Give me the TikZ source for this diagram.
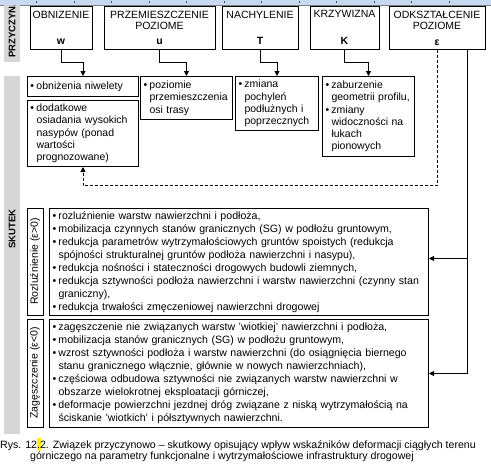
\documentclass[tikz,border=0pt]{standalone}
\usepackage{fontspec}
\setmainfont{Liberation Sans}
\usetikzlibrary{arrows.meta, positioning, calc}

\definecolor{bargrey}{HTML}{D6D6D6}
\definecolor{rulerblue}{HTML}{C6D9F0}

\newcommand{\bul}{\makebox[6pt][l]{\textbullet}}
\newcommand{\cont}{\hspace*{6pt}}

\begin{document}
\begin{tikzpicture}[
  x=1pt, y=-1pt,
  cause/.style={rectangle, draw, line width=1pt, inner sep=0pt},
  head/.style={font=\fontsize{10.5}{11}\selectfont, align=center, inner sep=0pt},
  sym/.style={font=\bfseries\fontsize{10.5}{11}\selectfont, inner sep=0pt},
  effect/.style={rectangle, draw, line width=1pt, anchor=north west, align=left,
    inner xsep=3pt, inner ysep=0pt, font=\fontsize{10.5}{12.3}\selectfont},
  effectwide/.style={effect, font=\fontsize{10.6}{13}\selectfont},
  sidebox/.style={rectangle, draw, line width=1pt, rotate=90, inner sep=0pt,
    minimum height=16, font=\fontsize{10.5}{12}\selectfont},
  bar/.style={rectangle, fill=bargrey, inner sep=0pt},
  arrow/.style={-{Triangle[length=5pt,width=5pt]}, line width=1pt}
]
\useasboundingbox (0,0) rectangle (491,469);

% ruler strip
\fill[rulerblue] (0,0) rectangle (491,5);
\draw[gray] (0,5) -- (491,5);
\foreach \t in {36,74,111,149,186,224,261,299,336,374,411,449}
  \draw[black!70] (\t,1) -- (\t,3);

% grey side bars
\node[bar, minimum width=16, minimum height=57, anchor=north west] (przbar) at (4,5) {};
\begin{scope}
  \clip (przbar.north west) rectangle (przbar.south east);
  \node[rotate=90, anchor=west, inner sep=0pt, font=\bfseries\fontsize{9.5}{10}\selectfont]
    (prz) at (12,58) {PRZYCZYNA};
\end{scope}
\node[bar, minimum width=16, minimum height=358, anchor=north west] (skbar) at (4,76) {};
\node[rotate=90, inner sep=0pt, font=\bfseries\fontsize{9.5}{10}\selectfont]
  (sk) at (12,229) {SKUTEK};

% causes
\node[cause, minimum width=62, minimum height=43] (w) at (61,27.5) {};
\node[cause, minimum width=111, minimum height=43] (u) at (159.5,27.5) {};
\node[cause, minimum width=76, minimum height=43] (T) at (260,27.5) {};
\node[cause, minimum width=69, minimum height=43] (K) at (344.5,27.5) {};
\node[cause, minimum width=96, minimum height=43] (eps) at (437,27.5) {};

\node[head, below=5pt of w.north] {OBNIZENIE};
\node[head, below=5pt of u.north] {PRZEMIESZCZENIE\\POZIOME};
\node[head, below=5pt of T.north] {NACHYLENIE};
\node[head, below=5pt of K.north] {KRZYWIZNA};
\node[head, below=5pt of eps.north] {ODKSZTAŁCENIE\\POZIOME};

\node[sym, above=5pt of w.south] {w};
\node[sym, above=5pt of u.south] {u};
\node[sym, above=5pt of T.south] {T};
\node[sym, above=5pt of K.south] {K};
\node[sym, above=4pt of eps.south] {ε};

% first effects
\node[effect, text width=105, minimum height=20] (a1) at (27,76)
  {\bul obniżenia niwelety};
\node[effect, text width=105, minimum height=66] (a2) at (27,100)
  {\bul dodatkowe\\\cont osiadania wysokich\\\cont nasypów (ponad\\\cont wartości\\\cont prognozowane)};
\node[effect, text width=86, minimum height=43] (b1) at (140,76)
  {\bul poziomie\\\cont przemieszczenia\\\cont osi trasy};
\node[effect, text width=77, minimum height=54] (c1) at (235,76)
  {\bul zmiana\\\cont pochyleń\\\cont podłużnych i\\\cont poprzecznych};
\node[effect, text width=86, minimum height=80] (d1) at (322,76)
  {\bul zaburzenie\\\cont geometrii profilu,\\\bul zmiany\\\cont widoczności na\\\cont łukach\\\cont pionowych};

% strain effects
\node[sidebox, minimum width=107] (rozl) at (35,261.5) {Rozluźnienie (ε>0)};
\node[sidebox, minimum width=108] (zagl) at (35,373) {Zagęszczenie (ε<0)};
\node[effectwide, text width=373, minimum height=107] (roz) at (49,208)
  {\bul rozluźnienie warstw nawierzchni i podłoża,\\
   \bul mobilizacja czynnych stanów granicznych (SG) w podłożu gruntowym,\\
   \bul redukcja parametrów wytrzymałościowych gruntów spoistych (redukcja\\
   \cont spójności strukturalnej gruntów podłoża nawierzchni i nasypu),\\
   \bul redukcja nośności i stateczności drogowych budowli ziemnych,\\
   \bul redukcja sztywności podłoża nawierzchni i warstw nawierzchni (czynny stan\\
   \cont graniczny),\\
   \bul redukcja trwałości zmęczeniowej nawierzchni drogowej};
\node[effectwide, text width=373, minimum height=108] (zag) at (49,319)
  {\bul zagęszczenie nie związanych warstw 'wiotkiej' nawierzchni i podłoża,\\
   \bul mobilizacja stanów granicznych (SG) w podłożu gruntowym,\\
   \bul wzrost sztywności podłoża i warstw nawierzchni (do osiągnięcia biernego\\
   \cont stanu granicznego włącznie, głównie w nowych nawierzchniach),\\
   \bul częściowa odbudowa sztywności nie związanych warstw nawierzchni w\\
   \cont obszarze wielokrotnej eksploatacji górniczej,\\
   \bul deformacje powierzchni jezdnej dróg związane z niską wytrzymałością na\\
   \cont ściskanie 'wiotkich' i półsztywnych nawierzchni.};

% connectors
\draw[arrow] (w.south) -- ++(0,13) -| (a1.north);
\draw[arrow] (u.south) -- ++(0,13) -| (b1.north);
\draw[arrow] (T.south) -- ++(0,13) -| (c1.north);
\draw[arrow] (K.south) -- ++(0,13) -| (d1.north);
\draw[arrow, dashed, dash pattern=on 3pt off 2pt] (eps.south) -- ++(0,136) -| (a2.south);
\coordinate (epsR) at ($(eps.south east)+(-18,0)$);
\draw[arrow] (epsR) |- (zag.east);
\draw[arrow] (epsR |- roz.east) ++(0,-3.5) -- ($(roz.east)+(0,-3.5)$);

% caption
\fill[yellow] (37,438) rectangle (41,450);
\node[anchor=north west, align=left, inner sep=0pt, font=\fontsize{10.6}{11.5}\selectfont] (cap) at (0,440)
  {Rys. 12.2. Związek przyczynowo – skutkowy opisujący wpływ wskaźników deformacji ciągłych terenu\\
   \hspace*{30pt}górniczego na parametry funkcjonalne i wytrzymałościowe infrastruktury drogowej};
\end{tikzpicture}
\end{document}
